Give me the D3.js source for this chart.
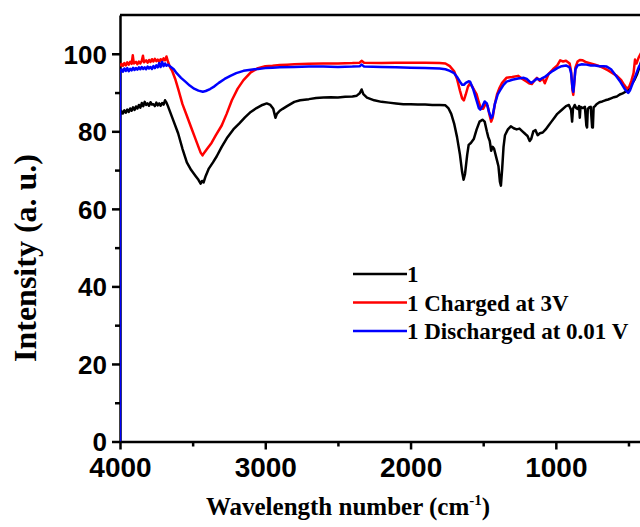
<!DOCTYPE html>
<html lang="en">
<head>
<meta charset="UTF-8">
<title>FTIR spectra</title>
<script src="https://d3js.org/d3.v7.min.js"></script>
<style>
  body { margin: 0; padding: 0; background: #fff; }
  svg { display: block; background: #fff; }
  .tick text { font-family: Arial, "Liberation Sans", sans-serif; font-weight: bold; fill: #000; }
  .title { font-family: "Times New Roman", "Liberation Serif", serif; font-weight: bold; fill: #000; }
</style>
</head>
<body>
<svg id="chart" width="640" height="527"></svg>
<script>
// [wavenumber, intensity] pairs
const sample1 = [[4000,84.3],[3990,85.2],[3980,84.6],[3970,85.4],[3960,84.8],[3950,85.6],[3940,85.0],[3930,85.9],[3920,85.3],[3910,86.2],[3900,85.5],[3890,86.4],[3880,85.9],[3870,86.8],[3860,86.1],[3850,87.3],[3840,86.5],[3830,87.6],[3820,86.8],[3810,87.2],[3800,86.6],[3790,87.5],[3780,86.9],[3770,87.0],[3760,86.5],[3750,87.4],[3740,86.7],[3730,87.2],[3720,86.6],[3710,87.3],[3700,86.9],[3690,88.0],[3680,87.4],[3670,86.5],[3650,84.5],[3630,82.5],[3600,79.5],[3570,75.5],[3540,72.0],[3510,70.0],[3480,68.5],[3460,67.5],[3445,66.5],[3435,67.2],[3425,66.8],[3410,68.5],[3390,70.3],[3360,72.0],[3335,73.5],[3300,76.0],[3260,78.5],[3220,80.5],[3180,82.0],[3140,83.6],[3100,85.0],[3060,86.0],[3020,86.8],[2990,87.2],[2965,86.8],[2945,85.8],[2930,83.5],[2920,84.5],[2900,85.3],[2880,85.8],[2850,86.5],[2800,87.6],[2760,88.0],[2700,88.3],[2650,88.6],[2600,88.7],[2550,88.8],[2500,88.7],[2450,88.9],[2400,89.0],[2370,89.2],[2350,89.8],[2337,90.8],[2325,89.6],[2300,88.7],[2250,88.0],[2200,87.6],[2150,87.4],[2100,87.2],[2050,87.0],[2000,87.0],[1950,86.9],[1900,86.9],[1850,86.8],[1800,86.8],[1760,86.7],[1740,86.0],[1720,84.5],[1700,82.0],[1680,78.5],[1660,74.0],[1645,69.5],[1635,67.5],[1625,69.0],[1610,74.0],[1600,76.5],[1585,77.0],[1565,78.0],[1545,80.5],[1525,82.5],[1505,83.0],[1490,82.5],[1475,80.0],[1465,78.5],[1455,77.5],[1445,75.0],[1435,76.0],[1425,75.5],[1415,74.0],[1405,72.5],[1395,71.0],[1385,67.0],[1378,66.0],[1370,70.0],[1360,76.0],[1350,79.0],[1330,80.5],[1310,81.3],[1290,80.8],[1270,80.5],[1250,80.7],[1230,80.0],[1210,79.3],[1195,78.8],[1180,77.5],[1170,78.0],[1155,80.0],[1140,80.3],[1125,79.0],[1110,79.5],[1090,79.7],[1070,80.5],[1050,81.5],[1030,82.5],[1010,83.5],[990,84.5],[960,85.5],[930,86.5],[910,86.8],[895,85.5],[888,82.5],[882,85.8],[870,86.8],[860,86.0],[850,85.8],[840,86.5],[835,83.5],[830,86.3],[815,86.0],[800,86.3],[790,81.5],[785,81.0],[780,85.8],[770,86.2],[760,86.3],[750,81.0],[745,81.0],[740,86.2],[730,86.5],[720,87.0],[700,87.5],[680,87.7],[660,88.0],[640,88.2],[620,88.5],[600,88.8],[580,89.0],[560,89.5],[540,89.8],[520,90.2],[500,90.8],[480,92.0],[460,93.2],[440,94.8],[420,97.0],[405,99.0]];

const charged = [[4000,96.8],[3990,97.4],[3980,96.9],[3970,97.6],[3960,97.0],[3950,97.8],[3940,97.2],[3930,97.9],[3920,97.4],[3912,99.6],[3905,97.5],[3890,97.9],[3880,97.3],[3870,98.0],[3860,97.5],[3850,98.2],[3842,99.5],[3835,97.8],[3820,98.3],[3810,97.7],[3800,98.4],[3790,97.9],[3780,98.6],[3770,98.0],[3760,98.7],[3750,98.1],[3740,98.5],[3730,97.9],[3720,98.6],[3710,98.1],[3700,98.8],[3690,98.3],[3680,99.3],[3670,98.0],[3655,96.5],[3640,95.5],[3620,93.5],[3600,91.0],[3570,87.0],[3540,84.0],[3510,81.0],[3480,78.0],[3460,76.0],[3445,74.5],[3432,73.8],[3420,74.5],[3400,75.5],[3370,77.0],[3340,79.0],[3300,81.5],[3266,84.5],[3230,88.0],[3190,91.0],[3150,93.2],[3100,95.2],[3050,96.3],[3000,96.8],[2950,96.9],[2900,97.1],[2850,97.2],[2800,97.3],[2700,97.4],[2600,97.5],[2500,97.5],[2400,97.6],[2350,97.7],[2337,98.2],[2320,97.7],[2200,97.6],[2100,97.7],[2000,97.7],[1900,97.7],[1800,97.6],[1760,97.5],[1730,96.8],[1700,95.5],[1680,93.5],[1660,90.5],[1645,88.5],[1633,88.0],[1620,89.5],[1605,91.5],[1590,92.4],[1575,91.5],[1560,90.5],[1545,89.5],[1530,87.5],[1515,85.8],[1500,85.8],[1485,87.0],[1470,86.6],[1458,84.5],[1445,82.5],[1435,83.5],[1420,87.0],[1405,89.5],[1390,91.0],[1370,92.5],[1340,93.8],[1300,94.0],[1260,94.3],[1230,93.5],[1200,92.8],[1180,92.3],[1165,92.2],[1150,93.0],[1130,93.8],[1110,93.0],[1090,93.6],[1076,92.4],[1050,94.8],[1020,96.0],[990,97.0],[970,98.3],[950,98.0],[930,98.2],[905,97.5],[895,95.5],[885,90.5],[880,89.4],[875,91.5],[865,96.5],[850,98.0],[835,98.4],[815,98.3],[790,97.8],[760,97.5],[730,97.2],[700,96.8],[670,96.3],[640,95.7],[610,95.0],[580,94.3],[550,93.2],[530,92.0],[510,91.0],[495,91.5],[480,93.0],[465,95.0],[455,98.5],[445,97.5],[430,99.0],[410,100.5],[400,99.8]];

const discharged = [[4000,0],[4000,95.3],[3990,96.0],[3980,95.4],[3970,96.2],[3960,95.6],[3950,96.3],[3940,95.5],[3930,96.1],[3920,95.7],[3910,96.4],[3900,95.8],[3890,96.3],[3880,95.9],[3870,96.5],[3860,96.0],[3850,96.6],[3840,96.1],[3830,96.5],[3820,96.0],[3810,96.7],[3800,96.2],[3790,96.6],[3780,96.1],[3770,96.8],[3760,96.3],[3750,97.0],[3740,96.5],[3730,97.6],[3720,96.6],[3710,97.9],[3700,96.8],[3690,97.5],[3680,96.9],[3670,97.2],[3650,96.6],[3630,96.0],[3610,95.0],[3580,93.8],[3550,92.8],[3520,91.8],[3490,91.0],[3460,90.5],[3430,90.2],[3410,90.4],[3380,90.9],[3350,91.6],[3320,92.5],[3280,93.5],[3240,94.3],[3200,95.0],[3150,95.6],[3100,95.9],[3050,96.1],[3000,96.3],[2950,96.4],[2900,96.5],[2800,96.6],[2700,96.7],[2600,96.7],[2500,96.6],[2400,96.7],[2350,96.8],[2337,97.2],[2320,96.7],[2200,96.6],[2100,96.5],[2000,96.4],[1900,96.3],[1800,96.2],[1760,96.0],[1730,95.6],[1700,95.0],[1680,94.0],[1660,92.8],[1645,92.0],[1633,92.0],[1620,92.5],[1600,92.9],[1590,92.8],[1570,91.0],[1550,88.5],[1530,86.0],[1520,85.6],[1505,86.5],[1490,87.7],[1475,87.2],[1460,85.0],[1445,83.4],[1435,84.0],[1420,87.0],[1400,89.5],[1385,90.5],[1360,92.0],[1339,92.8],[1300,93.3],[1260,93.6],[1220,93.8],[1200,93.5],[1180,92.8],[1168,92.5],[1150,93.0],[1130,93.6],[1110,93.3],[1090,93.8],[1076,94.0],[1050,94.8],[1020,95.6],[990,96.3],[960,96.8],[930,97.0],[905,96.5],[895,95.0],[885,91.0],[880,90.2],[875,92.0],[865,96.0],[850,97.0],[820,97.3],[790,97.2],[760,97.0],[730,97.0],[700,96.8],[670,96.8],[650,96.7],[620,96.0],[590,94.5],[560,93.0],[537,91.6],[520,90.6],[502,89.9],[490,90.5],[475,92.0],[460,93.5],[445,95.0],[430,96.5],[415,97.5],[400,98.5]];

const seriesNames = ["1", "1 Charged at 3V", "1 Discharged at 0.01 V"];
const seriesColors = ["#000000", "#ff0000", "#0000ff"];
const xTicks = [4000, 3000, 2000, 1000];
const xMinor = [3500, 2500, 1500, 500];
const yTicks = [0, 20, 40, 60, 80, 100];
const yMinor = [10, 30, 50, 70, 90];

const svg = d3.select("#chart");
const plotLeft = 120, plotBottom = 441.5, plotTop = 15;

const x = d3.scaleLinear().domain([4000, 400]).range([plotLeft, 643]);
const y = d3.scaleLinear().domain([0, 110]).range([plotBottom, plotTop]);

const series = [sample1, charged, discharged].map((values, i) => ({
    name: seriesNames[i],
    color: seriesColors[i],
    values: values
}));

svg.append("clipPath").attr("id", "clip")
    .append("rect").attr("x", plotLeft).attr("y", plotTop)
    .attr("width", 640 - plotLeft).attr("height", plotBottom - plotTop);

// frame top line
svg.append("line")
    .attr("x1", plotLeft).attr("x2", 640).attr("y1", plotTop).attr("y2", plotTop)
    .attr("stroke", "#000").attr("stroke-width", 2.5);

// x axis
const xAxis = svg.append("g").attr("transform", `translate(0,${plotBottom})`)
    .call(d3.axisBottom(x).tickValues(xTicks).tickFormat(d3.format("d"))
        .tickSize(8).tickSizeOuter(0).tickPadding(8));
xAxis.selectAll(".tick text").style("font-size", "28px");
svg.append("g").attr("transform", `translate(0,${plotBottom})`)
    .call(d3.axisBottom(x).tickValues(xMinor).tickSize(5).tickFormat(""))
    .select(".domain").remove();

// y axis
const yAxis = svg.append("g").attr("transform", `translate(${plotLeft},0)`)
    .call(d3.axisLeft(y).tickValues(yTicks).tickSize(8).tickSizeOuter(0).tickPadding(5));
yAxis.selectAll(".tick text").style("font-size", "26px").attr("dy", "0.36em");
svg.append("g").attr("transform", `translate(${plotLeft},0)`)
    .call(d3.axisLeft(y).tickValues(yMinor).tickSize(5).tickFormat(""))
    .select(".domain").remove();

svg.selectAll(".domain, .tick line").attr("stroke", "#000").attr("stroke-width", 2.5);

// curves
const line = d3.line().x(d => x(d[0])).y(d => y(d[1]));
svg.append("g").attr("clip-path", "url(#clip)")
    .selectAll("path").data(series).join("path")
    .attr("d", d => line(d.values))
    .attr("fill", "none")
    .attr("stroke", d => d.color)
    .attr("stroke-width", 2.5)
    .attr("stroke-linejoin", "round");

// legend
const legend = svg.append("g").attr("transform", "translate(353,274)");
series.forEach((s, i) => {
    const row = legend.append("g").attr("transform", `translate(0,${i * 28.5})`);
    row.append("line").attr("x1", 0).attr("x2", 54).attr("y1", 0).attr("y2", 0)
        .attr("stroke", s.color).attr("stroke-width", 2.5);
    row.append("text").attr("class", "title").attr("x", 54).attr("y", 8)
        .style("font-size", "23px").text(s.name);
});

// axis titles
const xt = svg.append("text").attr("class", "title")
    .attr("x", 348).attr("y", 515).attr("text-anchor", "middle")
    .style("font-size", "25px");
xt.append("tspan").text("Wavelength number (cm");
xt.append("tspan").attr("dy", -10).style("font-size", "15px").text("-1");
xt.append("tspan").attr("dy", 10).text(")");

svg.append("text").attr("class", "title")
    .attr("transform", "translate(36,258) rotate(-90)")
    .attr("text-anchor", "middle")
    .style("font-size", "32px")
    .text("Intensity (a. u.)");
</script>
</body>
</html>
